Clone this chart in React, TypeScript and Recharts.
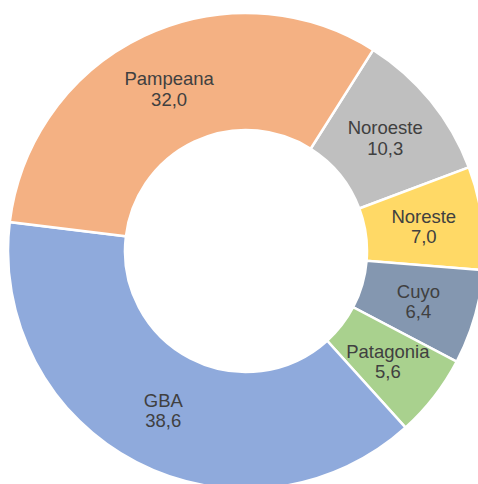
import React from "react";
import { PieChart, Pie, Cell } from "recharts";

const regions = ["Noroeste", "Noreste", "Cuyo", "Patagonia", "GBA", "Pampeana"];
const shares = [10.3, 7.0, 6.4, 5.6, 38.6, 32.0];
const colors = ["#BFBFBF", "#FFD966", "#8497B0", "#A9D18E", "#8FAADC", "#F4B183"];

const data = regions.map((name, i) => ({ name, value: shares[i] }));

const RADIAN = Math.PI / 180;

const renderLabel = (props: any) => {
  const { cx, cy, midAngle, innerRadius, outerRadius, name, value } = props;
  const r = (innerRadius + outerRadius) / 2;
  const x = cx + r * Math.cos(-midAngle * RADIAN);
  const y = cy + r * Math.sin(-midAngle * RADIAN);
  return (
    <text
      x={x}
      y={y}
      textAnchor="middle"
      fill="#404040"
      fontSize={18.5}
      fontFamily="'Liberation Sans', Arial, sans-serif"
    >
      <tspan x={x} y={y - 3.5}>{name}</tspan>
      <tspan x={x} y={y + 17}>{Number(value).toFixed(1).replace(".", ",")}</tspan>
    </text>
  );
};

export default function App() {
  return (
    <div style={{ position: "absolute", left: 0, top: 0, width: 478, height: 484, background: "#fff" }}>
      <PieChart width={478} height={484} margin={{ top: 0, right: 0, bottom: 0, left: 0 }}>
        <Pie
          data={data}
          dataKey="value"
          nameKey="name"
          cx={246}
          cy={251}
          innerRadius={121}
          outerRadius={238}
          startAngle={57.7}
          endAngle={-302.3}
          stroke="#ffffff"
          strokeWidth={2.5}
          label={renderLabel}
          labelLine={false}
          isAnimationActive={false}
        >
          {data.map((d, i) => (
            <Cell key={d.name} fill={colors[i]} />
          ))}
        </Pie>
      </PieChart>
    </div>
  );
}
